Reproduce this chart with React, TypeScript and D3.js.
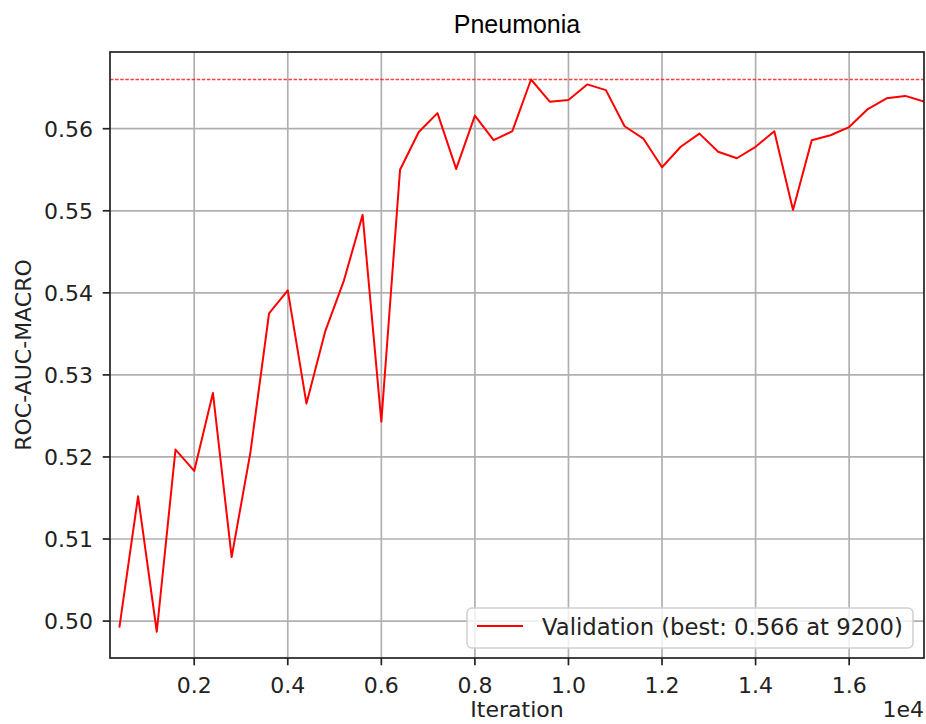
import React from "react";
import * as d3 from "d3";

const iterations: number[] = [
  400, 800, 1200, 1600, 2000, 2400, 2800, 3200, 3600, 4000, 4400, 4800, 5200, 5600, 6000,
  6400, 6800, 7200, 7600, 8000, 8400, 8800, 9200, 9600, 10000, 10400, 10800, 11200, 11600,
  12000, 12400, 12800, 13200, 13600, 14000, 14400, 14800, 15200, 15600, 16000, 16400, 16800,
  17200, 17600,
];
const rocAuc: number[] = [
  0.4992, 0.5152, 0.4987, 0.5209, 0.5183, 0.5278, 0.5078, 0.5205, 0.5375, 0.5403, 0.5265,
  0.5353, 0.5415, 0.5495, 0.5243, 0.555, 0.5596, 0.5619, 0.5551, 0.5616, 0.5586, 0.5597,
  0.566, 0.5633, 0.5635, 0.5654, 0.5647, 0.5603, 0.5588, 0.5553, 0.5578, 0.5594, 0.5572,
  0.5564, 0.5578, 0.5597, 0.5501, 0.5586, 0.5592, 0.5602, 0.5624, 0.5637, 0.564, 0.5633,
];
const xTicks: number[] = [2000, 4000, 6000, 8000, 10000, 12000, 14000, 16000];
const xTickLabels: string[] = ["0.2", "0.4", "0.6", "0.8", "1.0", "1.2", "1.4", "1.6"];
const yTicks: number[] = [0.5, 0.51, 0.52, 0.53, 0.54, 0.55, 0.56];
const bestValue = 0.566;
const bestIter = 9200;
const title = "Pneumonia";
const xLabel = "Iteration";
const yLabel = "ROC-AUC-MACRO";
const legendLabel = `Validation (best: ${bestValue.toFixed(3)} at ${bestIter})`;

export default function App() {
  const W = 926;
  const H = 724;
  const L = 110, R = 924, T = 52, B = 658;
  const x = d3.scaleLinear().domain([200, 17600]).range([L, R]);
  const y = d3.scaleLinear().domain([0.4955, 0.56935]).range([B, T]);
  const line = d3
    .line<number>()
    .x((_, i) => x(iterations[i]))
    .y((d) => y(d));
  const tickFont = "DejaVu Sans, sans-serif";
  const fs = 22;
  const gridColor = "#b0b0b0";
  return (
    <svg
      width={W}
      height={H}
      style={{ position: "absolute", left: 0, top: 0, background: "#fff" }}
    >
      <rect x={0} y={0} width={W} height={H} fill="#fff" />
      <defs>
        <clipPath id="plot">
          <rect x={L} y={T} width={R - L} height={B - T} />
        </clipPath>
      </defs>
      {/* grid */}
      {xTicks.map((t) => (
        <line key={"gx" + t} x1={x(t)} x2={x(t)} y1={T} y2={B} stroke={gridColor} strokeWidth={1.7} />
      ))}
      {yTicks.map((t) => (
        <line key={"gy" + t} x1={L} x2={R} y1={y(t)} y2={y(t)} stroke={gridColor} strokeWidth={1.7} />
      ))}
      {/* best line */}
      <line
        x1={L}
        x2={R}
        y1={y(bestValue)}
        y2={y(bestValue)}
        stroke="#ff0000"
        strokeOpacity={0.75}
        strokeWidth={1.6}
        strokeDasharray="3.5,1.6"
      />
      <path
        d={line(rocAuc) || ""}
        fill="none"
        stroke="#ff0000"
        strokeWidth={2}
        strokeLinejoin="round"
        clipPath="url(#plot)"
      />
      {/* spines */}
      <rect x={L} y={T} width={R - L} height={B - T} fill="none" stroke="#222" strokeWidth={1.7} />
      {/* x ticks */}
      {xTicks.map((t, i) => (
        <g key={"xt" + t}>
          <line x1={x(t)} x2={x(t)} y1={B} y2={B + 7.3} stroke="#222" strokeWidth={1.7} />
          <text
            x={x(t)}
            y={693}
            textAnchor="middle"
            fontFamily={tickFont}
            fontSize={fs}
            fill="#222"
          >
            {xTickLabels[i]}
          </text>
        </g>
      ))}
      {/* y ticks */}
      {yTicks.map((t) => (
        <g key={"yt" + t}>
          <line x1={L - 7.3} x2={L} y1={y(t)} y2={y(t)} stroke="#222" strokeWidth={1.7} />
          <text
            x={93}
            y={y(t)}
            dy="0.36em"
            textAnchor="end"
            fontFamily={tickFont}
            fontSize={fs}
            fill="#222"
          >
            {t.toFixed(2)}
          </text>
        </g>
      ))}
      {/* labels */}
      <text
        x={(L + R) / 2}
        y={33}
        textAnchor="middle"
        fontFamily="Liberation Sans, Arial, sans-serif"
        fontSize={25}
        fill="#000"
      >
        {title}
      </text>
      <text
        x={(L + R) / 2}
        y={717}
        textAnchor="middle"
        fontFamily={tickFont}
        fontSize={fs}
        fill="#222"
      >
        {xLabel}
      </text>
      <text
        x={R}
        y={717}
        textAnchor="end"
        fontFamily={tickFont}
        fontSize={fs}
        fill="#222"
      >
        1e4
      </text>
      <text
        transform={`translate(31, ${(T + B) / 2}) rotate(-90)`}
        textAnchor="middle"
        fontFamily={tickFont}
        fontSize={fs}
        fill="#222"
      >
        {yLabel}
      </text>
      {/* legend */}
      <g>
        <rect
          x={467}
          y={608}
          width={446}
          height={40}
          rx={5}
          fill="#fff"
          fillOpacity={0.8}
          stroke="#d0d0d0"
          strokeWidth={1.5}
        />
        <line x1={477} x2={523} y1={626} y2={626} stroke="#ff0000" strokeWidth={2} />
        <text x={542} y={627} dy="0.36em" fontFamily={tickFont} fontSize={22.7} fill="#222">
          {legendLabel}
        </text>
      </g>
    </svg>
  );
}
